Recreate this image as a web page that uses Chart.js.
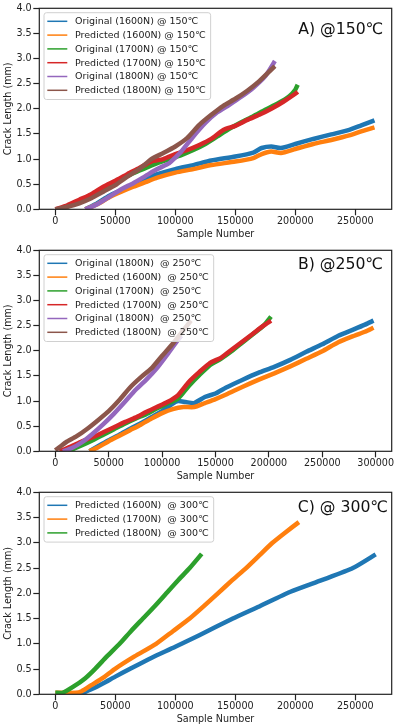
<!DOCTYPE html>
<html>
<head>
<meta charset="utf-8">
<script src="https://cdn.jsdelivr.net/npm/chart.js@4.4.1/dist/chart.umd.min.js"></script>
<style>
  html, body { margin: 0; padding: 0; background: #fff; }
  canvas { display: block; }
</style>
</head>
<body>
<canvas id="chartA" width="399" height="242"></canvas>
<canvas id="chartB" width="399" height="242"></canvas>
<canvas id="chartC" width="399" height="243"></canvas>
<script>
// matplotlib tab10 colours, in plotting order
const tab10 = ['#1f77b4', '#ff7f0e', '#2ca02c', '#d62728', '#9467bd', '#8c564b'];

// tick labels
const yTicks = [0, 0.5, 1, 1.5, 2, 2.5, 3, 3.5, 4];
const xTicks250 = [0, 50000, 100000, 150000, 200000, 250000];
const xTicks300 = [0, 50000, 100000, 150000, 200000, 250000, 300000];

// ---- A) @150℃ ----
const labelsA = ['Original (1600N) @ 150℃', 'Predicted (1600N) @ 150℃', 'Original (1700N) @ 150℃',
                 'Predicted (1700N) @ 150℃', 'Original (1800N) @ 150℃', 'Predicted (1800N) @ 150℃'];
const xA1600 = [25000, 35000, 45000, 55000, 65000, 75000, 85000, 100000, 115000, 130000, 150000, 165000, 172000, 180000, 188000, 200000, 215000, 230000, 245000, 255000, 266000];
const yA1600orig = [0, 0.12, 0.27, 0.38, 0.5, 0.62, 0.7, 0.8, 0.88, 0.97, 1.05, 1.13, 1.22, 1.25, 1.22, 1.3, 1.4, 1.49, 1.58, 1.67, 1.77];
const yA1600pred = [0, 0.1, 0.24, 0.35, 0.45, 0.54, 0.63, 0.73, 0.8, 0.88, 0.95, 1.02, 1.1, 1.15, 1.12, 1.2, 1.3, 1.38, 1.47, 1.55, 1.63];
const xA1700orig = [5000, 15000, 25000, 35000, 45000, 55000, 65000, 75000, 85000, 95000, 105000, 115000, 125000, 135000, 145000, 155000, 165000, 175000, 185000, 195000, 200000, 202000];
const yA1700orig = [0, 0.1, 0.22, 0.35, 0.48, 0.6, 0.72, 0.82, 0.92, 1.0, 1.08, 1.18, 1.3, 1.45, 1.6, 1.73, 1.85, 1.98, 2.1, 2.25, 2.38, 2.48];
const xA1700pred = [0, 10000, 20000, 30000, 40000, 50000, 60000, 70000, 80000, 90000, 100000, 110000, 120000, 130000, 140000, 150000, 160000, 170000, 180000, 190000, 200000, 202000];
const yA1700pred = [0, 0.08, 0.19, 0.3, 0.45, 0.57, 0.7, 0.82, 0.95, 1.0, 1.1, 1.18, 1.28, 1.4, 1.58, 1.66, 1.78, 1.88, 2.0, 2.14, 2.3, 2.34];
const xA1800orig = [25000, 35000, 45000, 55000, 65000, 75000, 85000, 95000, 100000, 105000, 115000, 125000, 135000, 145000, 155000, 165000, 175000, 183000];
const yA1800orig = [0, 0.1, 0.25, 0.4, 0.52, 0.66, 0.8, 0.92, 1.03, 1.15, 1.45, 1.72, 1.93, 2.08, 2.24, 2.42, 2.65, 2.95];
const xA1800pred = [0, 10000, 20000, 30000, 40000, 50000, 60000, 70000, 80000, 90000, 100000, 110000, 120000, 130000, 140000, 150000, 160000, 170000, 180000, 183000];
const yA1800pred = [0, 0.05, 0.12, 0.22, 0.35, 0.48, 0.65, 0.8, 1.0, 1.12, 1.25, 1.42, 1.68, 1.88, 2.06, 2.2, 2.36, 2.55, 2.78, 2.85];

// ---- B) @250℃ ----
const labelsB = ['Original (1800N)  @ 250℃', 'Predicted (1600N)  @ 250℃', 'Original (1700N)  @ 250℃',
                 'Predicted (1700N)  @ 250℃', 'Original (1800N)  @ 250℃', 'Predicted (1800N)  @ 250℃'];
const xB1600orig = [32000, 40000, 50000, 60000, 70000, 80000, 90000, 100000, 110000, 115000, 122000, 130000, 140000, 150000, 160000, 175000, 190000, 205000, 220000, 235000, 250000, 265000, 280000, 290000, 298000];
const yB1600orig = [0, 0.1, 0.22, 0.33, 0.45, 0.56, 0.68, 0.8, 0.95, 1.0, 0.98, 0.96, 1.08, 1.15, 1.27, 1.42, 1.56, 1.68, 1.82, 1.98, 2.13, 2.3, 2.43, 2.52, 2.6];
const xB1600pred = [32000, 40000, 50000, 60000, 70000, 80000, 90000, 100000, 110000, 120000, 130000, 140000, 150000, 160000, 175000, 190000, 205000, 220000, 235000, 250000, 265000, 280000, 290000, 298000];
const yB1600pred = [0, 0.08, 0.2, 0.31, 0.42, 0.53, 0.65, 0.76, 0.84, 0.88, 0.88, 0.96, 1.04, 1.13, 1.28, 1.42, 1.55, 1.69, 1.84, 1.99, 2.17, 2.3, 2.38, 2.46];
const xB1700orig = [12000, 25000, 35000, 45000, 55000, 65000, 75000, 85000, 95000, 105000, 115000, 125000, 135000, 145000, 155000, 165000, 175000, 185000, 195000, 202000];
const yB1700orig = [0, 0.12, 0.22, 0.33, 0.44, 0.55, 0.65, 0.74, 0.85, 0.95, 1.05, 1.3, 1.52, 1.72, 1.84, 1.99, 2.16, 2.33, 2.5, 2.68];
const xB1700pred = [4000, 15000, 25000, 35000, 45000, 55000, 65000, 75000, 85000, 95000, 105000, 115000, 125000, 135000, 145000, 155000, 165000, 175000, 185000, 195000, 202000];
const yB1700pred = [0, 0.1, 0.2, 0.28, 0.38, 0.48, 0.58, 0.67, 0.78, 0.88, 0.98, 1.12, 1.38, 1.58, 1.76, 1.86, 2.02, 2.18, 2.34, 2.5, 2.6];
const xB1800orig = [7000, 15000, 25000, 35000, 45000, 55000, 65000, 75000, 85000, 95000, 105000, 115000, 118000];
const yB1800orig = [0, 0.06, 0.18, 0.35, 0.54, 0.75, 0.98, 1.22, 1.42, 1.65, 1.93, 2.22, 2.3];
const xB1800pred = [0, 5000, 10000, 20000, 30000, 40000, 50000, 60000, 70000, 80000, 90000, 100000, 110000, 120000, 127000];
const yB1800pred = [0.02, 0.1, 0.18, 0.3, 0.45, 0.62, 0.8, 1.02, 1.27, 1.47, 1.65, 1.9, 2.14, 2.41, 2.6];

// ---- C) @ 300℃ ----
const labelsC = ['Predicted (1600N)  @ 300℃', 'Predicted (1700N)  @ 300℃', 'Predicted (1800N)  @ 300℃'];
const xC1600 = [20000, 30000, 40000, 50000, 62000, 80000, 100000, 120000, 148000, 170000, 196000, 222000, 248000, 267000];
const yC1600 = [0, 0.1, 0.22, 0.35, 0.5, 0.72, 0.94, 1.17, 1.5, 1.74, 2.03, 2.26, 2.5, 2.77];
const xC1700 = [0, 17000, 22000, 30000, 40000, 49500, 66000, 84000, 98000, 112000, 124000, 135500, 147000, 159000, 170000, 181000, 192000, 203000];
const yC1700 = [0.03, 0.03, 0.06, 0.18, 0.33, 0.5, 0.75, 1.0, 1.25, 1.5, 1.75, 2.0, 2.25, 2.5, 2.75, 3.0, 3.21, 3.41];
const xC1800 = [0, 6000, 15000, 25000, 33000, 43000, 53600, 63000, 73000, 83000, 92500, 102000, 112000, 122000];
const yC1800 = [0.03, 0.03, 0.15, 0.32, 0.5, 0.75, 1.0, 1.25, 1.5, 1.75, 2.0, 2.25, 2.5, 2.78];

Chart.defaults.font.family = '"DejaVu Sans", sans-serif';
Chart.defaults.color = '#222';

const smallFont = { size: 9.6 };

// frame, panel title and legend box drawn on top of the lines (like matplotlib)
const decor = {
    id: 'decor',
    afterDatasetsDraw(chart, args, opts) {
        const ctx = chart.ctx;
        const a = chart.chartArea;
        ctx.save();

        ctx.strokeStyle = '#222';
        ctx.lineWidth = 1.2;
        ctx.strokeRect(a.left, a.top, a.right - a.left, a.bottom - a.top);

        // legend
        const sets = chart.data.datasets;
        ctx.font = '9.5px "DejaVu Sans"';
        let maxW = 0;
        sets.forEach(d => { maxW = Math.max(maxW, ctx.measureText(d.label).width); });
        const x0 = a.left + 4.7, y0 = a.top + 4.4, rowH = 13.8;
        const w = 31 + maxW + 5, h = sets.length * rowH + 4;
        ctx.beginPath();
        ctx.roundRect(x0, y0, w, h, 2.5);
        ctx.fillStyle = 'rgba(255,255,255,0.8)';
        ctx.fill();
        ctx.strokeStyle = '#d0d0d0';
        ctx.lineWidth = 1;
        ctx.stroke();
        ctx.textAlign = 'left';
        ctx.textBaseline = 'middle';
        sets.forEach((d, i) => {
            const yy = y0 + 8.6 + i * rowH;
            ctx.strokeStyle = d.borderColor;
            ctx.lineWidth = 1.5;
            ctx.beginPath();
            ctx.moveTo(x0 + 3.3, yy);
            ctx.lineTo(x0 + 23.3, yy);
            ctx.stroke();
            ctx.fillStyle = '#222';
            ctx.fillText(d.label, x0 + 31, yy + 0.5);
        });

        // panel title
        ctx.font = '15.7px "DejaVu Sans"';
        ctx.fillStyle = '#111';
        ctx.textAlign = 'right';
        ctx.textBaseline = 'middle';
        ctx.fillText(opts.text, a.right + opts.dx, opts.y);

        ctx.restore();
    }
};

function makePanel(id, labels, xsList, ysList, xMax, xTicks, lineWidth, title) {
    const n = labels.length;
    const datasets = labels.map((lab, i) => ({
        label: lab,
        data: xsList[i].map((x, j) => ({ x: x, y: ysList[i][j] })),
        borderColor: tab10[i],
        backgroundColor: tab10[i],
        borderWidth: lineWidth,
        pointRadius: 0,
        tension: 0.2,
        fill: false,
        order: n - i
    }));

    new Chart(document.getElementById(id), {
        type: 'line',
        data: { datasets: datasets },
        plugins: [decor],
        options: {
            responsive: false,
            animation: false,
            devicePixelRatio: 1,
            layout: { padding: { top: 8.3, right: 7.3, left: 0, bottom: 0 } },
            plugins: {
                legend: { display: false },
                tooltip: { enabled: false },
                decor: title
            },
            scales: {
                x: {
                    type: 'linear',
                    min: -0.05 * xMax,
                    max: 1.05 * xMax,
                    afterBuildTicks: s => { s.ticks = xTicks.map(v => ({ value: v })); },
                    afterFit: s => { s.height = 32.7; },
                    ticks: { font: smallFont, padding: 0, autoSkip: false, maxRotation: 0, callback: v => String(v) },
                    grid: { drawOnChartArea: false, drawTicks: true, tickLength: 6, tickColor: '#222', tickWidth: 1.2 },
                    border: { display: false },
                    title: { display: true, text: 'Sample Number', font: smallFont, padding: { top: 0, bottom: 1.5 } }
                },
                y: {
                    min: 0,
                    max: 4,
                    afterBuildTicks: s => { s.ticks = yTicks.map(v => ({ value: v })); },
                    afterFit: s => { s.width = 39.3; },
                    ticks: { font: smallFont, padding: 1.6, autoSkip: false, callback: v => v.toFixed(1) },
                    grid: { drawOnChartArea: false, drawTicks: true, tickLength: 6, tickColor: '#222', tickWidth: 1.2 },
                    border: { display: false },
                    title: { display: true, text: 'Crack Length (mm)', font: smallFont, padding: { top: 3, bottom: 0 } }
                }
            }
        }
    });
}

makePanel('chartA', labelsA,
    [xA1600, xA1600, xA1700orig, xA1700pred, xA1800orig, xA1800pred],
    [yA1600orig, yA1600pred, yA1700orig, yA1700pred, yA1800orig, yA1800pred],
    267000, xTicks250, 4.5, { text: 'A) @150℃', dx: -8.4, y: 30 });

makePanel('chartB', labelsB,
    [xB1600orig, xB1600pred, xB1700orig, xB1700pred, xB1800orig, xB1800pred],
    [yB1600orig, yB1600pred, yB1700orig, yB1700pred, yB1800orig, yB1800pred],
    300000, xTicks300, 4.5, { text: 'B) @250℃', dx: -8.7, y: 23 });

makePanel('chartC', labelsC,
    [xC1600, xC1700, xC1800],
    [yC1600, yC1700, yC1800],
    267000, xTicks250, 4.5, { text: 'C) @ 300℃', dx: -3.7, y: 23.5 });
</script>
</body>
</html>
